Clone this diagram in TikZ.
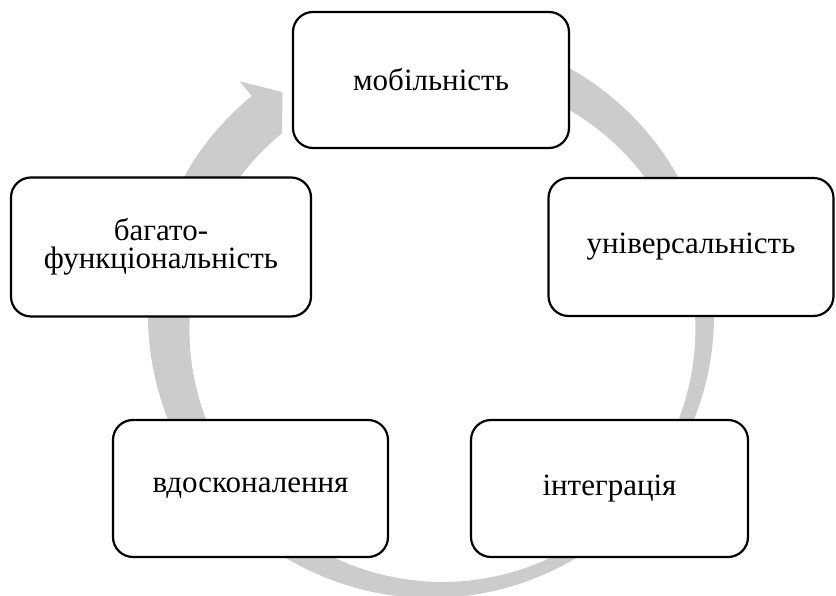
\documentclass[tikz,border=0pt]{standalone}
\usepackage{fontspec}
\setmainfont{Liberation Serif}
\definecolor{ringgray}{RGB}{204,204,204}

\begin{document}
\begin{tikzpicture}[x=1pt, y=1pt,
		stage/.style={draw, line width=2.2pt, rounded corners=20pt, fill=white, align=center,
			inner sep=0pt, font=\fontsize{31}{28}\selectfont}]
			\useasboundingbox (0,0) rectangle (836,596);
			\coordinate (c) at (431,281);
			
			\begin{scope}[shift={(c)}]
				\fill[ringgray] (110:283) arc[start angle=110, end angle=-230.7, radius=283]
					-- (-230.7:302) -- (-236.3:268) -- (-230.7:235)
					arc[start angle=-230.7, end angle=110, radius=253] -- cycle;
			\end{scope}
			
			\node[stage, minimum width=276, minimum height=136] (mob) at (431,516) {мобільність};
			\node[stage, minimum width=285, minimum height=138] (univ) at (691,349) {універсальність};
			\node[stage, minimum width=277, minimum height=137] (integ) at (609.5,107.5) {інтеграція};
			\node[stage, minimum width=275, minimum height=137] (vdosk) at (250.5,107.5) {вдосконалення};
			\node[stage, minimum width=300, minimum height=139] (bagato) at (161,349) {багато-\\функціональність};
		\end{tikzpicture}
\end{document}
